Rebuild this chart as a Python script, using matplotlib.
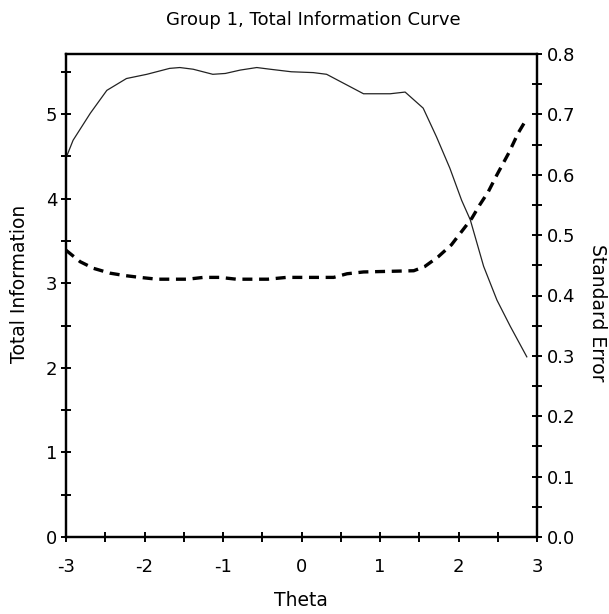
import matplotlib
matplotlib.use("Agg")
import matplotlib.pyplot as plt
from matplotlib.ticker import MultipleLocator

plt.rcParams['font.family'] = ['DejaVu Sans']

title = "Group 1, Total Information Curve"
x_label = "Theta"
y_label_left = "Total Information"
y_label_right = "Standard Error"

# Total information curve (solid)
info_theta = [-3.0, -2.91, -2.69, -2.48, -2.23, -1.97, -1.68, -1.55, -1.38, -1.13, -0.97,
              -0.78, -0.57, -0.40, -0.13, 0.15, 0.32, 0.79, 1.13, 1.32, 1.55, 1.72, 1.89,
              2.04, 2.15, 2.32, 2.49, 2.66, 2.87]
info_vals = [4.48, 4.69, 5.01, 5.28, 5.42, 5.47, 5.54, 5.55, 5.53, 5.47, 5.48,
             5.52, 5.55, 5.53, 5.50, 5.49, 5.47, 5.24, 5.24, 5.26, 5.07, 4.73, 4.36,
             3.98, 3.75, 3.20, 2.80, 2.49, 2.13]

# Standard error curve (dashed)
se_theta = [-3.0, -2.82, -2.65, -2.44, -2.25, -2.06, -1.84, -1.45, -1.25, -1.04, -0.83,
            -0.43, -0.19, 0.41, 0.58, 0.79, 1.43, 1.57, 1.74, 1.91, 2.04, 2.17, 2.27,
            2.38, 2.49, 2.64, 2.76, 2.87]
se_vals = [0.475, 0.456, 0.445, 0.437, 0.433, 0.430, 0.427, 0.427, 0.430, 0.430, 0.427,
           0.427, 0.430, 0.430, 0.436, 0.439, 0.441, 0.448, 0.464, 0.484, 0.506, 0.528, 0.550,
           0.572, 0.600, 0.636, 0.669, 0.693]

x_ticks = [-3, -2, -1, 0, 1, 2, 3]
left_ticks = [0, 1, 2, 3, 4, 5]
right_ticks = [0.0, 0.1, 0.2, 0.3, 0.4, 0.5, 0.6, 0.7, 0.8]

W, H = 609, 614
fig = plt.figure(figsize=(W/100, H/100), dpi=100)
ax = fig.add_axes([66/W, 1-537/H, (537-66)/W, (537-54)/H])
ax2 = ax.twinx()

ax.plot(info_theta, info_vals, color='#222222', lw=0.9)
ax2.plot(se_theta, se_vals, color='black', lw=2.4, dashes=(3.0, 2.0))

ax.set_xlim(-3, 3)
ax.set_ylim(0, 5.71)
ax2.set_ylim(0, 0.8)

ax.set_xticks(x_ticks)
ax.set_xticklabels([str(t) for t in x_ticks])
ax.xaxis.set_minor_locator(MultipleLocator(0.5))
ax.set_yticks(left_ticks)
ax.set_yticklabels([str(t) for t in left_ticks])
ax.yaxis.set_minor_locator(MultipleLocator(0.5))
ax2.set_yticks(right_ticks)
ax2.set_yticklabels([f"{t:.1f}" for t in right_ticks])
ax2.yaxis.set_minor_locator(MultipleLocator(0.05))

for a in (ax, ax2):
    for s in a.spines.values():
        s.set_linewidth(1.6)
        s.set_color('black')
    a.tick_params(which='both', direction='inout', length=6.5, width=1.4, color='black',
                  labelsize=13)
ax.tick_params(axis='x', pad=12)
ax.tick_params(axis='y', pad=3)
ax2.tick_params(axis='y', pad=4)

fig.text(301/W, 1-600/H, x_label, ha='center', va='center', fontsize=13.5)
fig.text(20/W, 1-284/H, y_label_left, ha='center', va='center', rotation=90, fontsize=13.5)
fig.text(597/W, 1-313/H, y_label_right, ha='center', va='center', rotation=270, fontsize=13.5)
fig.text(313/W, 1-20/H, title, ha='center', va='center', fontsize=13)

fig.savefig("out.png", dpi=100)
